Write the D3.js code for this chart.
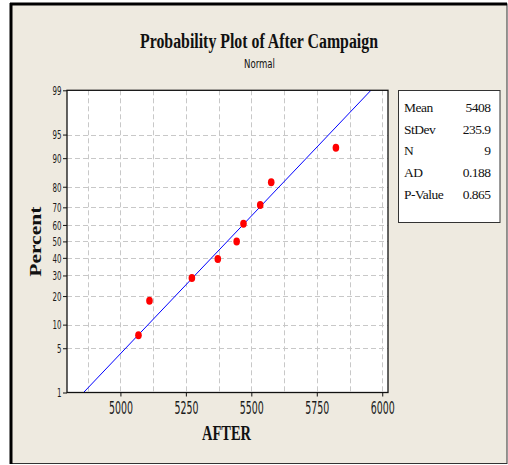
<!DOCTYPE html>
<html><head><meta charset="utf-8">
<script src="https://cdn.jsdelivr.net/npm/d3@7"></script>
<style>body{margin:0;background:#fff}svg{display:block}</style>
</head><body>
<script>
// ---- data ----
const afterValues = [5069, 5111, 5273, 5372, 5444, 5470, 5534, 5576, 5823];
const percentValues = [7.45, 18.09, 28.72, 39.36, 50, 60.64, 71.28, 81.91, 92.55];
const xTickValues = [5000, 5250, 5500, 5750, 6000];
const xGridValues = [4875, 5000, 5125, 5250, 5375, 5500, 5625, 5750, 5875, 6000];
const yTickValues = [1, 5, 10, 20, 30, 40, 50, 60, 70, 80, 90, 95, 99];
const statLabels = ["Mean", "StDev", "N", "AD", "P-Value"];
const statValues = ["5408", "235.9", "9", "0.188", "0.865"];
const fitMean = 5408, fitSd = 235.9;

// inverse standard normal CDF (Acklam)
function qnorm(p){
  const a=[-3.969683028665376e+01,2.209460984245205e+02,-2.759285104469687e+02,1.383577518672690e+02,-3.066479806614716e+01,2.506628277459239e+00];
  const b=[-5.447609879822406e+01,1.615858368580409e+02,-1.556989798598866e+02,6.680131188771972e+01,-1.328068155288572e+01];
  const c=[-7.784894002430293e-03,-3.223964580411365e-01,-2.400758277161838e+00,-2.549732539343734e+00,4.374664141464968e+00,2.938163982698783e+00];
  const d=[7.784695709041462e-03,3.224671290700398e-01,2.445134137142996e+00,3.754408661907416e+00];
  const pl=0.02425, ph=1-pl; let q,r;
  if(p<pl){q=Math.sqrt(-2*Math.log(p));return (((((c[0]*q+c[1])*q+c[2])*q+c[3])*q+c[4])*q+c[5])/((((d[0]*q+d[1])*q+d[2])*q+d[3])*q+1);}
  if(p<=ph){q=p-0.5;r=q*q;return (((((a[0]*r+a[1])*r+a[2])*r+a[3])*r+a[4])*r+a[5])*q/(((((b[0]*r+b[1])*r+b[2])*r+b[3])*r+b[4])*r+1);}
  q=Math.sqrt(-2*Math.log(1-p));return -(((((c[0]*q+c[1])*q+c[2])*q+c[3])*q+c[4])*q+c[5])/((((d[0]*q+d[1])*q+d[2])*q+d[3])*q+1);
}

const W=508,H=465;
const svg=d3.select("body").append("svg").attr("width",W).attr("height",H);

// frame
svg.append("rect").attr("x",11).attr("y",4).attr("width",496).attr("height",459.5)
  .attr("fill","#eeeae0").attr("stroke","#333").attr("stroke-width",1);
svg.append("line").attr("x1",11).attr("x2",11).attr("y1",3).attr("y2",464).attr("stroke","#000").attr("stroke-width",3);
svg.append("line").attr("x1",10).attr("x2",507).attr("y1",4).attr("y2",4).attr("stroke","#000").attr("stroke-width",3);

const L=67,R=388,T=90.3,B=392.5;
const x=d3.scaleLinear().domain([4796,6022]).range([L,R]);
const zScale=d3.scaleLinear().domain([qnorm(0.01),qnorm(0.99)]).range([B,T]);
const y=p=>zScale(qnorm(p/100));

// plot bg
svg.append("rect").attr("x",L).attr("y",T).attr("width",R-L).attr("height",B-T).attr("fill","#fff");

// grid
const grid=svg.append("g").attr("stroke","#c8c8c8").attr("stroke-dasharray","5,3").attr("stroke-width",1);
grid.selectAll(".gx").data(xGridValues).join("line")
  .attr("x1",d=>Math.round(x(d))+0.5).attr("x2",d=>Math.round(x(d))+0.5).attr("y1",T).attr("y2",B);
grid.selectAll(".gy").data(yTickValues.filter(d=>d>1&&d<99)).join("line")
  .attr("y1",d=>Math.round(y(d))+0.5).attr("y2",d=>Math.round(y(d))+0.5).attr("x1",L).attr("x2",R);

// fit line
svg.append("line")
  .attr("x1",x(fitMean+qnorm(0.01)*fitSd)).attr("y1",y(1))
  .attr("x2",x(fitMean+qnorm(0.99)*fitSd)).attr("y2",y(99))
  .attr("stroke","#0000ff").attr("stroke-width",1);

// points
svg.selectAll(".pt").data(afterValues).join("ellipse")
  .attr("cx",d=>x(d)).attr("cy",(d,i)=>y(percentValues[i]))
  .attr("rx",3.3).attr("ry",4).attr("fill","#ff0000");

// border
svg.append("rect").attr("x",L).attr("y",T).attr("width",R-L).attr("height",B-T)
  .attr("fill","none").attr("stroke","#111").attr("stroke-width",1.3);

// axes
const xAxis=d3.axisBottom(x).tickValues(xTickValues).tickSize(4).tickFormat(d3.format("d"));
const gx=svg.append("g").attr("transform",`translate(0,${B})`).call(xAxis);
gx.select(".domain").remove();
gx.selectAll(".tick line").attr("stroke","#111");
gx.selectAll(".tick text").attr("y",21).attr("dy",0)
  .attr("font-family","'DejaVu Sans Condensed','DejaVu Sans',sans-serif").attr("font-size",17.5)
  .attr("fill","#1a1a1a").attr("textLength",24).attr("lengthAdjust","spacingAndGlyphs");

const yAxis=d3.axisLeft(zScale).tickValues(yTickValues.map(p=>qnorm(p/100))).tickSize(4)
  .tickFormat((d,i)=>yTickValues[i]);
const gy=svg.append("g").attr("transform",`translate(${L},0)`).call(yAxis);
gy.select(".domain").remove();
gy.selectAll(".tick line").attr("stroke","#111");
gy.selectAll(".tick text").attr("x",-5.5).attr("dy","0.36em")
  .attr("font-family","'DejaVu Sans Condensed','DejaVu Sans',sans-serif").attr("font-size",12)
  .attr("fill","#1a1a1a").attr("textLength",(d,i)=>String(yTickValues[i]).length*4.5)
  .attr("lengthAdjust","spacingAndGlyphs");

// titles
svg.append("text").attr("x",259).attr("y",48).attr("text-anchor","middle")
  .attr("font-family","'Liberation Serif','Times New Roman',serif").attr("font-weight","bold")
  .attr("font-size",20).attr("fill","#111").attr("textLength",238).attr("lengthAdjust","spacingAndGlyphs")
  .text("Probability Plot of After Campaign");
svg.append("text").attr("x",259.5).attr("y",68).attr("text-anchor","middle")
  .attr("font-family","'DejaVu Sans Condensed','DejaVu Sans',sans-serif")
  .attr("font-size",13).attr("fill","#111").attr("textLength",31).attr("lengthAdjust","spacingAndGlyphs")
  .text("Normal");
svg.append("text").attr("x",226.5).attr("y",440).attr("text-anchor","middle")
  .attr("font-family","'Liberation Serif','Times New Roman',serif").attr("font-weight","bold")
  .attr("font-size",21).attr("fill","#111").attr("textLength",49).attr("lengthAdjust","spacingAndGlyphs")
  .text("AFTER");
svg.append("text").attr("transform","translate(40.5,241.7) rotate(-90)").attr("text-anchor","middle")
  .attr("font-family","'Liberation Serif','Times New Roman',serif").attr("font-weight","bold")
  .attr("font-size",17).attr("fill","#111").attr("textLength",70).attr("lengthAdjust","spacingAndGlyphs")
  .text("Percent");

// stats box
const bx=398.5,by=90.5,bw=101.5,bh=132;
svg.append("rect").attr("x",bx).attr("y",by).attr("width",bw).attr("height",bh)
  .attr("fill","#fff").attr("stroke","#333").attr("stroke-width",1);
const rowY=d3.scalePoint().domain(statLabels).range([111.7,199]);
svg.selectAll(".sl").data(statLabels).join("text")
  .attr("x",404).attr("y",d=>rowY(d))
  .attr("font-family","'Liberation Serif','Times New Roman',serif").attr("font-size",13.5)
  .attr("fill","#111").attr("letter-spacing",-0.5).text(d=>d);
svg.selectAll(".sv").data(statValues).join("text")
  .attr("x",490.5).attr("y",(d,i)=>rowY(statLabels[i])).attr("text-anchor","end")
  .attr("font-family","'Liberation Serif','Times New Roman',serif").attr("font-size",13.5)
  .attr("fill","#111").attr("letter-spacing",-0.5).text(d=>d);
</script>
</body></html>
